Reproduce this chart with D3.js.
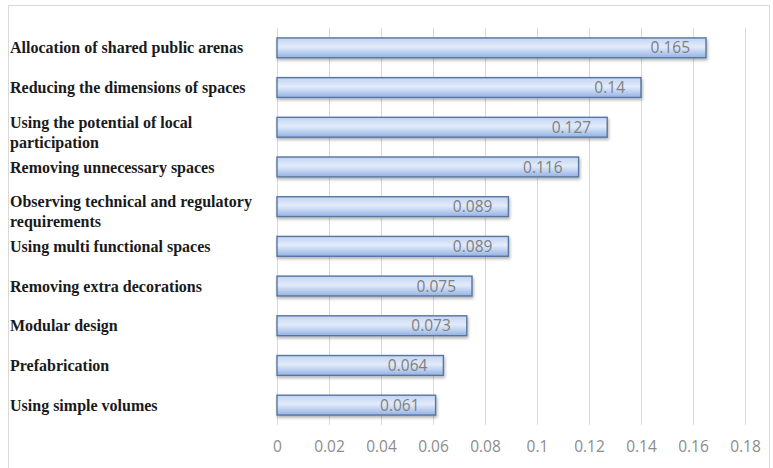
<!DOCTYPE html>
<html lang="en">
<head>
<meta charset="UTF-8" />
<title>Cost reduction strategies</title>
<script src="https://cdn.jsdelivr.net/npm/d3@7/dist/d3.min.js"></script>
<style>
  body { margin: 0; background: #fff; }
</style>
</head>
<body>
<script>
// data, top to bottom as in the chart
var categories = [
  "Allocation of shared public arenas",
  "Reducing the dimensions of spaces",
  "Using the potential of local|participation",
  "Removing unnecessary spaces",
  "Observing technical and regulatory|requirements",
  "Using multi functional spaces",
  "Removing extra decorations",
  "Modular design",
  "Prefabrication",
  "Using simple volumes"
];
var values = [0.165, 0.14, 0.127, 0.116, 0.089, 0.089, 0.075, 0.073, 0.064, 0.061];
var valueLabels = ["0.165", "0.14", "0.127", "0.116", "0.089", "0.089", "0.075", "0.073", "0.064", "0.061"];
var tickValues = [0, 0.02, 0.04, 0.06, 0.08, 0.1, 0.12, 0.14, 0.16, 0.18];

var width = 773, height = 468;
var plot = { left: 277, right: 745, top: 28, bottom: 425 };

var svg = d3.select("body").append("svg")
  .attr("width", width)
  .attr("height", height);

// outer frame
svg.append("rect")
  .attr("x", 8.5).attr("y", 5.5)
  .attr("width", 761).attr("height", 470)
  .attr("fill", "none")
  .attr("stroke", "#d9d9d9");

var defs = svg.append("defs");
var grad = defs.append("linearGradient")
  .attr("id", "barGrad")
  .attr("x1", 0).attr("y1", 0).attr("x2", 0).attr("y2", 1);
grad.append("stop").attr("offset", "0%").attr("stop-color", "#c3d4f2");
grad.append("stop").attr("offset", "45%").attr("stop-color", "#e2ebfa");
grad.append("stop").attr("offset", "100%").attr("stop-color", "#94b2e4");

var shadow = defs.append("filter").attr("id", "shadow")
  .attr("x", "-5%").attr("y", "-30%").attr("width", "110%").attr("height", "170%");
shadow.append("feDropShadow")
  .attr("dx", 1).attr("dy", 2).attr("stdDeviation", 1.5)
  .attr("flood-color", "#000").attr("flood-opacity", 0.3);

var xScale = d3.scaleLinear()
  .domain([0, 0.18])
  .range([plot.left, plot.right]);

var yScale = d3.scaleBand()
  .domain(categories)
  .range([plot.top, plot.bottom])
  .paddingInner(0.5)
  .paddingOuter(0.25);

// gridlines + tick labels
var xAxis = d3.axisBottom(xScale)
  .tickValues(tickValues)
  .tickSize(-(plot.bottom - plot.top))
  .tickPadding(16)
  .tickFormat(function(d) { return d3.format("")(+d.toFixed(2)); });

var gx = svg.append("g")
  .attr("transform", "translate(0," + plot.bottom + ")")
  .call(xAxis);
gx.select(".domain").remove();
gx.selectAll(".tick line").attr("stroke", "#d9d9d9");
gx.selectAll(".tick text")
  .attr("fill", "#8c8c8c")
  .style("font-family", "'Open Sans', sans-serif")
  .style("font-size", "15.5px");

// bars
svg.selectAll("rect.bar")
  .data(values)
  .enter()
  .append("rect")
  .attr("class", "bar")
  .attr("x", xScale(0))
  .attr("y", function(d, i) { return yScale(categories[i]); })
  .attr("width", function(d) { return xScale(d) - xScale(0); })
  .attr("height", yScale.bandwidth())
  .attr("fill", "url(#barGrad)")
  .attr("stroke", "#56769f")
  .attr("stroke-width", 1.4)
  .attr("filter", "url(#shadow)");

// value labels
svg.selectAll("text.val")
  .data(values)
  .enter()
  .append("text")
  .attr("class", "val")
  .attr("x", function(d) { return xScale(d) - 16; })
  .attr("y", function(d, i) { return yScale(categories[i]) + yScale.bandwidth() / 2; })
  .attr("dy", "0.36em")
  .attr("text-anchor", "end")
  .attr("fill", "#7f7f7f")
  .style("font-family", "'Open Sans', sans-serif")
  .style("font-size", "15.5px")
  .text(function(d, i) { return valueLabels[i]; });

// category labels
var labels = svg.selectAll("text.cat")
  .data(categories)
  .enter()
  .append("text")
  .attr("class", "cat")
  .attr("fill", "#1a1a1a")
  .style("font-family", "'Liberation Serif', 'DejaVu Serif', serif")
  .style("font-size", "16px")
  .style("font-weight", "bold");

labels.each(function(d) {
  var lines = d.split("|");
  var cy = yScale(d) + yScale.bandwidth() / 2;
  var t = d3.select(this);
  lines.forEach(function(line, j) {
    var y0 = lines.length > 1 ? cy - 5 + j * 20 : cy;
    t.append("tspan")
      .attr("x", 10)
      .attr("y", y0)
      .attr("dy", "0.35em")
      .text(line);
  });
});
</script>
</body>
</html>
